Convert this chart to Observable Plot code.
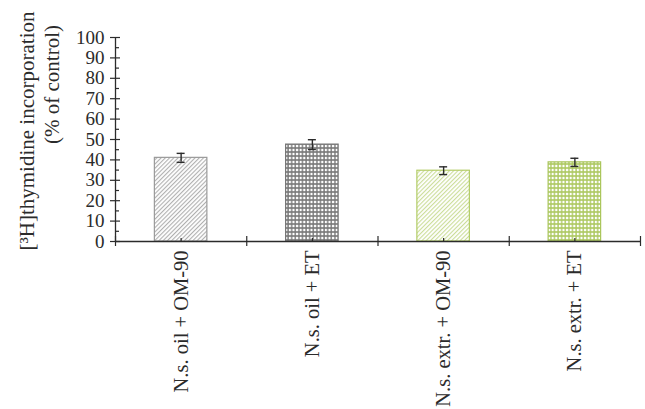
<!DOCTYPE html>
<html>
<head>
<meta charset="utf-8">
<script src="https://cdn.jsdelivr.net/npm/d3@7"></script>
<script src="https://cdn.jsdelivr.net/npm/@observablehq/plot@0.6"></script>
<style>
  html, body { margin: 0; padding: 0; background: #fff; }
  #chart svg { display: block; }
</style>
</head>
<body>
<div id="chart"></div>
<script>
// ---- data ----
const categories = ["N.s. oil + OM-90", "N.s. oil + ET", "N.s. extr. + OM-90", "N.s. extr. + ET"];
const values = [41, 47.5, 34.7, 38.8];
const errors = [2.2, 2.4, 1.9, 2.0];
const fills = ["url(#hatchGray)", "url(#dotsGray)", "url(#hatchGreen)", "url(#dotsGreen)"];
const strokes = ["#9a9a9a", "#767676", "#b3cc66", "#a9c55a"];
const yMajorTicks = [0, 10, 20, 30, 40, 50, 60, 70, 80, 90, 100];
const yMinorTicks = [5, 15, 25, 35, 45, 55, 65, 75, 85, 95];
const yTitle1 = "[³H]thymidine incorporation";
const yTitle2 = "(% of control)";

const rows = categories.map((c, i) => ({c, i, v: values[i], e: errors[i], fill: fills[i], stroke: strokes[i]}));
const boundaries = d3.range(categories.length + 1);

const font = "'Liberation Serif', 'Times New Roman', serif";
const ink = "#2b2b2b";

const plot = Plot.plot({
  width: 645,
  height: 409,
  marginLeft: 115,
  marginRight: 5,
  marginTop: 37,
  marginBottom: 168,
  style: {fontFamily: font, background: "#fff", color: ink},
  x: {type: "linear", domain: [0, categories.length], axis: null},
  y: {domain: [0, 100], axis: null},
  marks: [
    // bars
    Plot.rectY(rows, {x1: d => d.i + 0.3, x2: d => d.i + 0.7, y1: 0, y2: d => d.v,
      fill: d => d.fill, stroke: d => d.stroke, strokeWidth: 1.2}),
    // error bars
    Plot.ruleX(rows, {x: d => d.i + 0.5, y1: d => d.v - d.e, y2: d => d.v + d.e, stroke: ink, strokeWidth: 1.4}),
    Plot.ruleY(rows, {y: d => d.v + d.e, x1: d => d.i + 0.5, x2: d => d.i + 0.5, insetLeft: -4, insetRight: -4, stroke: ink, strokeWidth: 1.4}),
    Plot.ruleY(rows, {y: d => d.v - d.e, x1: d => d.i + 0.5, x2: d => d.i + 0.5, insetLeft: -4, insetRight: -4, stroke: ink, strokeWidth: 1.4}),
    // axis lines
    Plot.ruleY([0], {x1: 0, x2: categories.length, stroke: ink, strokeWidth: 1.3}),
    Plot.ruleX([0], {y1: 0, y2: 100, stroke: ink, strokeWidth: 1.3}),
    // y ticks
    Plot.ruleY(yMajorTicks, {y: d => d, x1: 0, x2: 0, insetLeft: -5, insetRight: -5, stroke: ink, strokeWidth: 1.2}),
    Plot.ruleY(yMinorTicks, {y: d => d, x1: 0, x2: 0, insetLeft: 0, insetRight: -4, stroke: ink, strokeWidth: 1.2}),
    Plot.text(yMajorTicks, {x: 0, y: d => d, text: d => String(d), textAnchor: "end", dx: -11,
      fontSize: 19, letterSpacing: 0.6, fill: ink}),
    // x ticks
    Plot.ruleX(boundaries, {x: d => d, y1: 0, y2: 0, insetTop: -5, insetBottom: -5, stroke: ink, strokeWidth: 1.2}),
    Plot.ruleX(rows, {x: d => d.i + 0.5, y1: 0, y2: 1.5, stroke: ink, strokeWidth: 1.2}),
    // x labels
    Plot.text(rows, {x: d => d.i + 0.5, y: 0, text: d => d.c, rotate: -90, textAnchor: "end",
      lineAnchor: "middle", dy: 9, fontSize: 20.5, fill: ink}),
    // y title
    Plot.text([yTitle1], {frameAnchor: "top-left", dx: -88, dy: 213, rotate: -90, textAnchor: "start",
      lineAnchor: "middle", fontSize: 21, fill: ink}),
    Plot.text([yTitle2], {frameAnchor: "top-left", dx: -63, dy: 47, rotate: -90, textAnchor: "middle",
      lineAnchor: "middle", fontSize: 21, fill: ink})
  ]
});

// pattern definitions
const svg = d3.select(plot);
const defs = svg.insert("defs", ":first-child");
function hatch(id, color) {
  const p = defs.append("pattern").attr("id", id).attr("patternUnits", "userSpaceOnUse")
    .attr("width", 3).attr("height", 3).attr("patternTransform", "rotate(45)");
  p.append("rect").attr("width", 3).attr("height", 3).attr("fill", "#fff");
  p.append("line").attr("x1", 0.6).attr("y1", 0).attr("x2", 0.6).attr("y2", 3)
    .attr("stroke", color).attr("stroke-width", 1);
}
function dots(id, color) {
  const p = defs.append("pattern").attr("id", id).attr("patternUnits", "userSpaceOnUse")
    .attr("width", 3.6).attr("height", 4);
  p.append("rect").attr("width", 3.6).attr("height", 4).attr("fill", color);
  p.append("rect").attr("x", 0.8).attr("y", 0.8).attr("width", 2.2).attr("height", 2.4).attr("fill", "#fff");
}
hatch("hatchGray", "#a8a8a8");
dots("dotsGray", "#777777");
hatch("hatchGreen", "#c6da8e");
dots("dotsGreen", "#adc860");

document.getElementById("chart").appendChild(plot);
</script>
</body>
</html>
